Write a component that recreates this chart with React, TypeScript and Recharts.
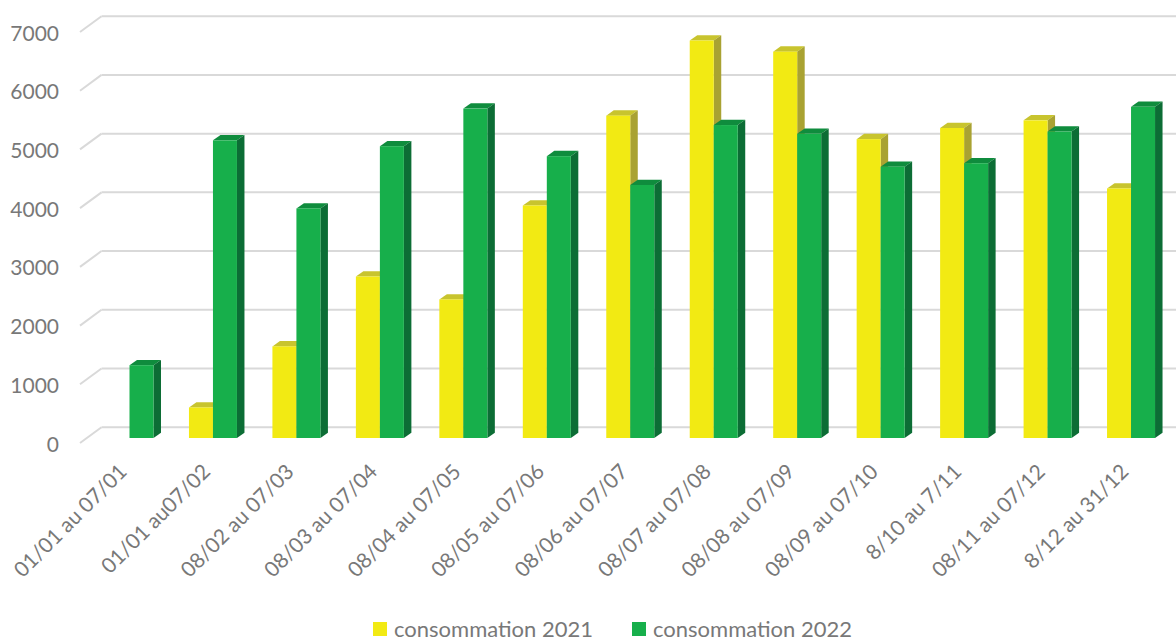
import { BarChart, Bar, XAxis, YAxis, CartesianGrid, Legend } from "recharts";

const periods = [
  "01/01 au 07/01",
  "01/01 au07/02",
  "08/02 au 07/03",
  "08/03 au 07/04",
  "08/04 au 07/05",
  "08/05 au 07/06",
  "08/06 au 07/07",
  "08/07 au 07/08",
  "08/08 au 07/09",
  "08/09 au 07/10",
  "8/10 au 7/11",
  "08/11 au 07/12",
  "8/12 au 31/12",
];
const conso2021 = [0, 520, 1560, 2750, 2360, 3960, 5490, 6770, 6580, 5090, 5280, 5410, 4250];
const conso2022 = [1240, 5070, 3910, 4970, 5610, 4800, 4310, 5330, 5180, 4620, 4680, 5220, 5640];
const yTicks = [0, 1000, 2000, 3000, 4000, 5000, 6000, 7000];

const data = periods.map((p, i) => ({ period: p, c2021: conso2021[i], c2022: conso2022[i] }));

const FONT = "Lato, 'Open Sans', sans-serif";
const TEXT = "#787878";
const GRID = "#d9d9d9";

// depth of a bar box (Excel 3D look)
const DX = 7.5;
const DY = 5.3;

const palette: Record<string, { front: string; top: string; side: string }> = {
  c2021: { front: "#f2ea13", top: "#c8c42e", side: "#a9a232" },
  c2022: { front: "#17af4b", top: "#0f8c3d", side: "#0c6d35" },
};

function Box3D(props: any) {
  const { x, y, width, height, dataKey } = props;
  if (!height || height <= 0) return null;
  const c = palette[dataKey as string] ?? palette.c2022;
  const r = x + width;
  const b = y + height;
  return (
    <g>
      <polygon points={`${x},${y} ${x + DX},${y - DY} ${r + DX},${y - DY} ${r},${y}`} fill={c.top} />
      <polygon points={`${r},${y} ${r + DX},${y - DY} ${r + DX},${b - DY} ${r},${b}`} fill={c.side} />
      <rect x={x} y={y} width={width} height={height} fill={c.front} />
    </g>
  );
}

function gridLine(p: any) {
  const y = p.y1;
  return (
    <g key={`g-${p.index}-${y}`}>
      <line x1={80} y1={y + 5} x2={101.5} y2={y - 10.8} stroke={GRID} strokeWidth={2} />
      <line x1={101.5} y1={y - 10.8} x2={1176} y2={y - 10.8} stroke={GRID} strokeWidth={2} />
    </g>
  );
}

function YTick(props: any) {
  const { y, payload } = props;
  return (
    <text x={59} y={y + 6} dy="0.36em" textAnchor="end" fill={TEXT} fontSize={21} fontFamily={FONT}>
      {payload.value}
    </text>
  );
}

function XTick(props: any) {
  const { x, y, payload } = props;
  const ax = x - 1;
  const ay = y + 27;
  return (
    <text
      x={ax}
      y={ay}
      textAnchor="end"
      fill={TEXT}
      fontSize={21}
      fontFamily={FONT}
      transform={`rotate(-45, ${ax}, ${ay})`}
    >
      {payload.value}
    </text>
  );
}

function LegendBox() {
  const items = [
    { label: "consommation 2021", color: palette.c2021.front },
    { label: "consommation 2022", color: palette.c2022.front },
  ];
  return (
    <div
      style={{
        height: 52,
        paddingTop: 30,
        paddingLeft: 373,
        boxSizing: "border-box",
        display: "flex",
        justifyContent: "flex-start",
        gap: 39,
        fontFamily: FONT,
        fontSize: 22,
        lineHeight: "24px",
        color: TEXT,
      }}
    >
      {items.map((it) => (
        <div key={it.label} style={{ display: "flex", alignItems: "center" }}>
          <span style={{ width: 14, height: 14, background: it.color, marginRight: 7, display: "inline-block" }} />
          <span>{it.label}</span>
        </div>
      ))}
    </div>
  );
}

export default function App() {
  return (
    <div style={{ position: "absolute", left: 0, top: 0, width: 1176, height: 640, background: "#fff" }}>
      <BarChart
        width={1176}
        height={640}
        data={data}
        margin={{ top: 27, right: 3.5, left: 0, bottom: 0 }}
        barGap={0}
        barSize={24}
      >
        <CartesianGrid vertical={false} horizontal={gridLine} />
        <XAxis
          dataKey="period"
          interval={0}
          tickLine={false}
          axisLine={false}
          height={150}
          tick={<XTick />}
        />
        <YAxis
          width={87.5}
          domain={[0, 7000]}
          ticks={yTicks}
          tickLine={false}
          axisLine={false}
          tick={<YTick />}
        />
        <Legend verticalAlign="bottom" height={52} content={<LegendBox />} />
        <Bar dataKey="c2021" name="consommation 2021" fill={palette.c2021.front} shape={<Box3D dataKey="c2021" />} isAnimationActive={false} />
        <Bar dataKey="c2022" name="consommation 2022" fill={palette.c2022.front} shape={<Box3D dataKey="c2022" />} isAnimationActive={false} />
      </BarChart>
    </div>
  );
}
